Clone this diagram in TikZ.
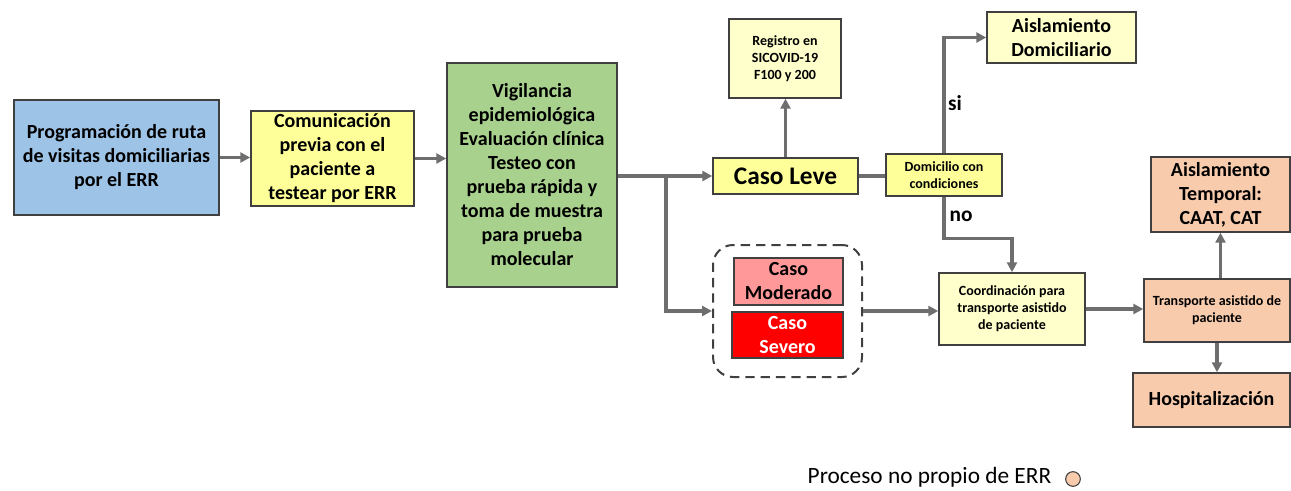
\documentclass[tikz,border=0pt]{standalone}
\usepackage{fontspec}
\setmainfont{Carlito}
\usepackage{tikz}
\usetikzlibrary{positioning, arrows.meta, calc}

\definecolor{azul}{HTML}{9DC3E6}
\definecolor{amarillo}{HTML}{FFFF99}
\definecolor{crema}{HTML}{FFFFCC}
\definecolor{verde}{HTML}{A9D18E}
\definecolor{rosa}{HTML}{FF9999}
\definecolor{rojo}{HTML}{FF0000}
\definecolor{salmon}{HTML}{F8CBAD}
\definecolor{borde}{HTML}{404040}
\definecolor{gris}{HTML}{6E6E6E}

\begin{document}
\begin{tikzpicture}[x=0.75pt, y=-0.75pt,
	caja/.style={draw=borde, line width=1.1pt, align=center, inner sep=0pt, font=\fontsize{15}{18}\selectfont\bfseries},
	chica/.style={font=\fontsize{10.5}{12.75}\selectfont\bfseries},
	conector/.style={draw=gris, line width=2.3pt},
	flecha/.style={conector, -{Triangle[length=7.5pt, width=7.5pt]}}]
	\useasboundingbox (0,0) rectangle (1291,490);

	\node [caja, fill=azul, minimum width=153.75pt, minimum height=86.25pt] (prog) at (116.5,157.5) {Programación de ruta\\de visitas domiciliarias\\por el ERR};
	\node [caja, fill=amarillo, minimum width=122.25pt, minimum height=71.25pt] (comun) at (332.5,158.5) {Comunicación\\previa con el\\paciente a\\testear por ERR};
	\node [caja, fill=verde, minimum width=127.5pt, minimum height=168pt] (vigil) at (532,175) {Vigilancia\\epidemiológica\\Evaluación clínica\\Testeo con\\prueba rápida y\\toma de muestra\\para prueba\\molecular};

	\node [caja, chica, fill=crema, minimum width=84pt, minimum height=59.25pt] (registro) at (785,58.5) {Registro en\\SICOVID-19\\F100 y 200};
	\node [caja, fill=amarillo, font=\fontsize{19}{22}\selectfont\bfseries, minimum width=108.75pt, minimum height=27pt] (leve) at (785.5,176) {Caso Leve};
	\node [caja, chica, fill=amarillo, minimum width=87pt, minimum height=31.5pt] (domic) at (944,175) {Domicilio con\\condiciones};
	\node [caja, fill=crema, minimum width=111.75pt, minimum height=38.25pt] (aisldom) at (1061.5,37.5) {Aislamiento\\Domiciliario};

	\node [draw=borde, dashed, dash pattern=on 7pt off 4.5pt, line width=1.5pt, rounded corners=15pt, minimum width=111.75pt, minimum height=99pt] (grave) at (787.5,311) {};
	\node [caja, fill=rosa, minimum width=81.75pt, minimum height=35.25pt] (moder) at (788.5,281.5) {Caso\\Moderado};
	\node [caja, fill=rojo, text=white, minimum width=83.25pt, minimum height=34.5pt] (severo) at (787.5,335) {Caso\\Severo};

	\node [caja, chica, fill=crema, minimum width=109.5pt, minimum height=54pt] (coord) at (1012,309) {Coordinación para\\transporte asistido\\de paciente};
	\node [caja, fill=salmon, minimum width=104.25pt, minimum height=56.25pt] (aislt) at (1220.5,194.5) {Aislamiento\\Temporal:\\CAAT, CAT};
	\node [caja, chica, fill=salmon, minimum width=109.5pt, minimum height=47.25pt] (transp) at (1217,310.5) {Transporte asistido de\\paciente};
	\node [caja, fill=salmon, minimum width=117.75pt, minimum height=40.5pt] (hosp) at (1211.5,400) {Hospitalización};

	\node [font=\fontsize{16}{18}\selectfont\bfseries] (si) at (955,103) {si};
	\node [font=\fontsize{16}{18}\selectfont\bfseries] (no) at (961,216) {no};

	\coordinate (rama) at (666,176);
	\draw [flecha] (prog.east) -- (prog.east -| comun.west);
	\draw [flecha] (comun.east) -- (comun.east -| vigil.west);
	\draw [flecha] (vigil.east |- leve) -- (leve.west);
	\draw [flecha] (rama) |- (grave.west);
	\draw [flecha] (leve.north) -- (leve.north |- registro.south);
	\draw [conector] (leve.east) -- (leve.east -| domic.west);
	\draw [flecha] (domic.north) |- (aisldom.west);
	\draw [flecha] (domic.south) -- ++(0,42) -| (coord.north);
	\draw [flecha] (grave.east) -- (grave.east -| coord.west);
	\draw [flecha] (coord.east) -- (coord.east -| transp.west);
	\draw [flecha] (transp.north -| aislt) -- (aislt.south);
	\draw [flecha] (transp.south) -- (transp.south |- hosp.north);

	\node [anchor=base west, font=\fontsize{17.5}{21}\selectfont] (leyenda) at (803,483) {Proceso no propio de ERR};
	\node [circle, draw=borde, line width=0.8pt, fill=salmon, minimum size=11pt, inner sep=0pt] (muestra) at (1073,479) {};
\end{tikzpicture}
\end{document}
